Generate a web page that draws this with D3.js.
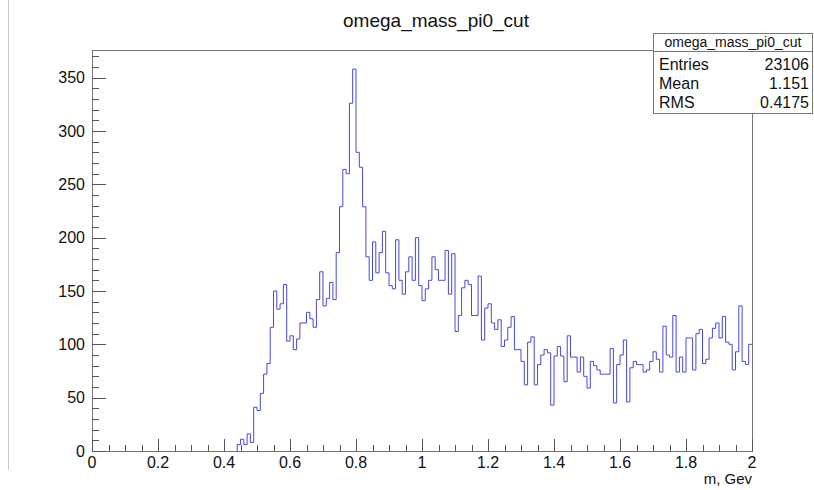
<!DOCTYPE html>
<html lang="en">
  <head>
    <meta charset="UTF-8" />
    <title>omega_mass_pi0_cut</title>
    <script src="https://d3js.org/d3.v7.min.js"></script>
    <style>
      body {
        margin: 0;
        background-color: white;
        font-family: "Liberation Sans", Arial, Helvetica, sans-serif;
      }
    </style>
  </head>

  <body>
    <div id="chart"></div>

    <script>
      // histogram: 200 bins from 0 to 2 GeV
      const binLow = 0,
        binHigh = 2;
      const counts = [
        0, 0, 0, 0, 0, 0, 0, 0, 0, 0, 0, 0, 0, 0, 0, 0, 0, 0, 0, 0,
        0, 0, 0, 0, 0, 0, 0, 0, 0, 0, 0, 0, 0, 0, 0, 0, 0, 0, 0, 0,
        0, 0, 0, 0,
        6, 11, 6, 16, 8, 41, 38, 54, 72, 82, 116, 150, 133, 138, 156,
        103, 108, 95, 105, 120, 120, 130, 124, 116, 142, 168, 136, 143,
        158, 142, 186, 229, 264, 260, 326, 358, 280, 266,
        229, 182, 160, 196, 167, 186, 206, 167, 155, 152, 198, 160, 147,
        168, 182, 160, 200, 155, 141, 152, 160, 182, 170, 160, 160, 188,
        147, 185,
        112, 127, 153, 160, 156, 127, 127, 164, 104, 134, 138, 120, 114,
        123, 98, 104, 116, 126, 95, 95, 84, 62, 102, 107, 62, 81, 90, 95,
        92, 43, 89, 98,
        89, 65, 108, 88, 88, 74, 88, 70, 59, 84, 80, 76, 72, 72, 72, 96,
        45, 81, 90, 104,
        46, 78, 84, 81, 81, 74, 76, 84, 93, 86, 74, 117, 90, 88, 127, 74,
        88, 74, 106, 106, 76, 110, 114, 82, 86, 106, 115, 120, 106, 126,
        102, 100, 76, 93, 136, 84, 81, 100,
      ];

      const xMajorTicks = [0, 0.2, 0.4, 0.6, 0.8, 1, 1.2, 1.4, 1.6, 1.8, 2];
      const yMajorTicks = [0, 50, 100, 150, 200, 250, 300, 350];

      const statLabels = ["Entries", "Mean", "RMS"];
      const statValues = ["23106", "1.151", "0.4175"];

      const histTitle = "omega_mass_pi0_cut";
      const xTitle = "m, Gev";

      const W = 814,
        H = 490;
      const frame = { left: 92, right: 752, top: 50, bottom: 451 };

      const svg = d3
        .select("#chart")
        .append("svg")
        .attr("width", W)
        .attr("height", H);

      // thin canvas border on the left
      svg
        .append("line")
        .attr("x1", 8.5)
        .attr("x2", 8.5)
        .attr("y1", 0)
        .attr("y2", 470)
        .attr("stroke", "#c8c8c8");

      const nBins = counts.length;
      const binW = (binHigh - binLow) / nBins;
      const yMax = d3.max(counts) * 1.05;

      const x = d3
        .scaleLinear()
        .domain([binLow, binHigh])
        .range([frame.left, frame.right]);
      const y = d3
        .scaleLinear()
        .domain([0, yMax])
        .range([frame.bottom, frame.top]);

      // title
      svg
        .append("text")
        .attr("x", 436)
        .attr("y", 27)
        .attr("text-anchor", "middle")
        .attr("font-size", "19px")
        .attr("fill", "#111")
        .text(histTitle);

      // histogram outline (step), leading empty bins sit on the axis
      const first = counts.findIndex((c) => c > 0);
      const pts = [[binLow + first * binW, 0]];
      counts.forEach((c, i) => {
        if (i < first) return;
        pts.push([binLow + i * binW, c]);
        pts.push([binLow + (i + 1) * binW, c]);
      });
      const line = d3
        .line()
        .x((d) => x(d[0]))
        .y((d) => y(d[1]));
      svg
        .append("path")
        .datum(pts)
        .attr("d", line)
        .attr("fill", "none")
        .attr("stroke", "#4848d6")
        .attr("stroke-width", 1);

      // frame
      svg
        .append("rect")
        .attr("x", frame.left + 0.5)
        .attr("y", frame.top + 0.5)
        .attr("width", frame.right - frame.left)
        .attr("height", frame.bottom - frame.top)
        .attr("fill", "none")
        .attr("stroke", "#777");

      // x axis ticks (inside frame)
      const gx = svg.append("g");
      const xMinor = d3.range(0, 40 + 1).map((i) => binLow + i * 0.05);
      gx.selectAll(".xminor")
        .data(xMinor)
        .enter()
        .append("line")
        .attr("x1", (d) => Math.round(x(d)) + 0.5)
        .attr("x2", (d) => Math.round(x(d)) + 0.5)
        .attr("y1", frame.bottom)
        .attr("y2", frame.bottom - 6)
        .attr("stroke", "#555");
      gx.selectAll(".xmajor")
        .data(xMajorTicks)
        .enter()
        .append("line")
        .attr("x1", (d) => Math.round(x(d)) + 0.5)
        .attr("x2", (d) => Math.round(x(d)) + 0.5)
        .attr("y1", frame.bottom)
        .attr("y2", frame.bottom - 12)
        .attr("stroke", "#555");
      gx.selectAll("text")
        .data(xMajorTicks)
        .enter()
        .append("text")
        .attr("x", (d) => x(d))
        .attr("y", 468)
        .attr("text-anchor", "middle")
        .attr("font-size", "16px")
        .attr("fill", "#111")
        .text((d) => d3.format("~g")(d));

      // y axis ticks (inside frame)
      const gy = svg.append("g");
      const yMinor = d3.range(0, 380, 10).filter((v) => v <= yMax);
      gy.selectAll(".yminor")
        .data(yMinor)
        .enter()
        .append("line")
        .attr("x1", frame.left)
        .attr("x2", frame.left + 7)
        .attr("y1", (d) => Math.round(y(d)) + 0.5)
        .attr("y2", (d) => Math.round(y(d)) + 0.5)
        .attr("stroke", "#555");
      gy.selectAll(".ymajor")
        .data(yMajorTicks)
        .enter()
        .append("line")
        .attr("x1", frame.left)
        .attr("x2", frame.left + 14)
        .attr("y1", (d) => Math.round(y(d)) + 0.5)
        .attr("y2", (d) => Math.round(y(d)) + 0.5)
        .attr("stroke", "#555");
      gy.selectAll("text")
        .data(yMajorTicks)
        .enter()
        .append("text")
        .attr("x", 85)
        .attr("y", (d) => y(d))
        .attr("dy", "0.35em")
        .attr("text-anchor", "end")
        .attr("font-size", "16px")
        .attr("fill", "#111")
        .text((d) => d);

      // x axis title
      svg
        .append("text")
        .attr("x", frame.right)
        .attr("y", 484)
        .attr("text-anchor", "end")
        .attr("font-size", "15px")
        .attr("fill", "#111")
        .text(xTitle);

      // stats box
      const box = { x: 653, y: 33, w: 160, h: 80, sep: 51 };
      const gs = svg.append("g");
      gs.append("rect")
        .attr("x", box.x + 0.5)
        .attr("y", box.y + 0.5)
        .attr("width", box.w - 1)
        .attr("height", box.h)
        .attr("fill", "white")
        .attr("stroke", "#777");
      gs.append("line")
        .attr("x1", box.x)
        .attr("x2", box.x + box.w)
        .attr("y1", box.sep + 0.5)
        .attr("y2", box.sep + 0.5)
        .attr("stroke", "#777");
      gs.append("text")
        .attr("x", box.x + box.w / 2)
        .attr("y", 47)
        .attr("text-anchor", "middle")
        .attr("font-size", "14px")
        .attr("fill", "#111")
        .text(histTitle);
      statLabels.forEach((lab, i) => {
        gs.append("text")
          .attr("x", box.x + 6)
          .attr("y", 70 + i * 19)
          .attr("font-size", "16px")
          .attr("fill", "#111")
          .text(lab);
        gs.append("text")
          .attr("x", box.x + box.w - 4)
          .attr("y", 70 + i * 19)
          .attr("text-anchor", "end")
          .attr("font-size", "16px")
          .attr("fill", "#111")
          .text(statValues[i]);
      });
    </script>
  </body>
</html>
